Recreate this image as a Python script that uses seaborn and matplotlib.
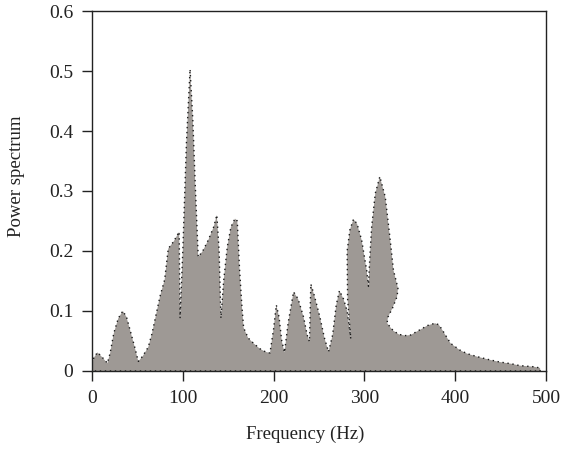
import matplotlib
matplotlib.use("Agg")
import matplotlib.pyplot as plt
from matplotlib.ticker import FuncFormatter
import seaborn as sns

# spectrum outline (Hz, power)
freq = [0, 2, 6, 10, 17, 20, 24, 29, 34, 38, 42, 47, 51, 56, 62, 66, 70, 75, 80,
        84, 90, 96, 97, 100, 104, 108, 111, 114, 117, 122, 128, 134, 137.5, 140, 142,
        145, 149, 153, 157.5, 160, 162.5, 165, 167, 172, 178, 185, 191, 196, 200,
        203, 206, 209, 212, 216, 222, 227, 233, 237, 239.5, 241, 245, 251, 256, 260.5,
        265, 269, 272.5, 277, 281, 285, 281.5, 281, 284, 288, 292, 297, 302.5, 304.5,
        306, 308, 312, 317, 323, 328, 332, 337, 336, 331, 326, 325, 329, 332, 338,
        345, 351, 358, 364, 369, 374, 378, 382, 386, 390, 395, 405, 413, 424, 437,
        449, 462, 471, 479, 487, 493.5]
power = [0.012, 0.022, 0.031, 0.025, 0.013, 0.03, 0.063, 0.088, 0.1, 0.09, 0.068, 0.04,
         0.016, 0.025, 0.04, 0.062, 0.09, 0.125, 0.152, 0.204, 0.216, 0.232, 0.088,
         0.2, 0.38, 0.503, 0.42, 0.3, 0.19, 0.2, 0.218, 0.24, 0.26, 0.2, 0.088, 0.15,
         0.207, 0.24, 0.254, 0.25, 0.17, 0.11, 0.072, 0.055, 0.046, 0.037, 0.032, 0.03,
         0.07, 0.11, 0.09, 0.05, 0.031, 0.08, 0.132, 0.12, 0.09, 0.06, 0.049, 0.145,
         0.125, 0.09, 0.055, 0.032, 0.06, 0.11, 0.134, 0.12, 0.1, 0.054, 0.12, 0.2,
         0.235, 0.253, 0.245, 0.218, 0.168, 0.141, 0.19, 0.24, 0.296, 0.324, 0.29,
         0.224, 0.168, 0.138, 0.124, 0.105, 0.09, 0.08, 0.072, 0.067, 0.061, 0.059,
         0.06, 0.066, 0.071, 0.0755, 0.078, 0.0795, 0.077, 0.068, 0.058, 0.046, 0.035,
         0.029, 0.024, 0.019, 0.015, 0.012, 0.009, 0.008, 0.007, 0.005]

x_ticks = [0, 100, 200, 300, 400, 500]
y_ticks = [0, 0.1, 0.2, 0.3, 0.4, 0.5, 0.6]

sns.set_style("ticks")
plt.rcParams['font.family'] = ['Liberation Serif', 'DejaVu Serif']

fig = plt.figure(figsize=(5.62, 4.51), dpi=100)
ax = fig.add_axes([0.1637, 0.1774, 0.8078, 0.7982])

# closed outline, baseline included (the dotted edge runs along it too)
poly_x = freq + [freq[-1], freq[0], freq[0]]
poly_y = power + [0, 0, power[0]]
ax.fill(poly_x, poly_y, color="#9e9995", lw=0, zorder=1)
sns.lineplot(x=poly_x, y=poly_y, sort=False, estimator=None, ax=ax,
             color="#1a1a1a", lw=1.0, linestyle=(0, (1, 2.6)), zorder=2)

ax.set_xlim(0, 500)
ax.set_ylim(0, 0.6)
ax.set_xticks(x_ticks)
ax.set_yticks(y_ticks)
ax.yaxis.set_major_formatter(FuncFormatter(lambda v, p: "0" if v == 0 else f"{v:.1f}"))
ax.tick_params(direction="out", length=7, width=1, colors="#222222",
               labelsize=14, labelcolor="#222222", pad=6.5)
for s in ax.spines.values():
    s.set_visible(True)
    s.set_linewidth(1)
    s.set_color("#222222")

ax.set_xlabel("Frequency (Hz)", fontsize=13.5, color="#222222")
ax.set_ylabel("Power spectrum", fontsize=13.5, color="#222222")
ax.xaxis.set_label_coords(0.469, -0.152)
ax.yaxis.set_label_coords(-0.148, 0.54)

fig.savefig("out.png", dpi=100)
